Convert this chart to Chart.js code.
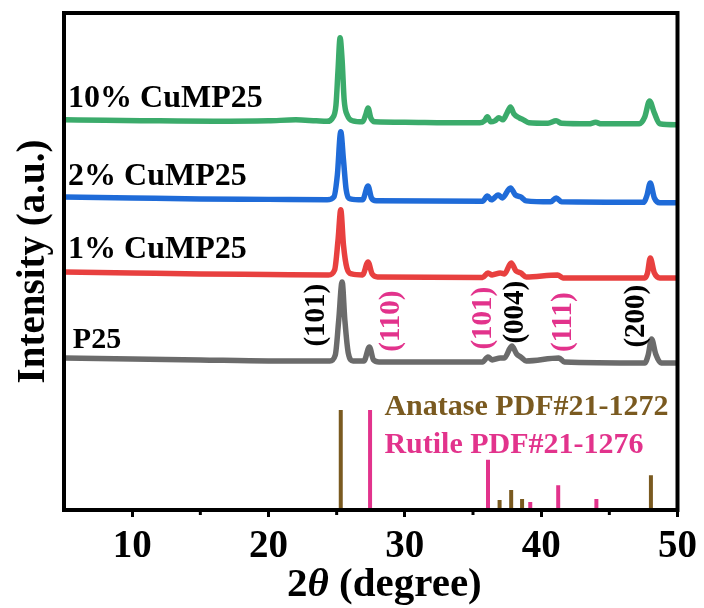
<!DOCTYPE html>
<html>
<head>
<meta charset="utf-8">
<script src="https://cdn.jsdelivr.net/npm/chart.js@4.4.1/dist/chart.umd.min.js"></script>
<style>
  html, body { margin: 0; padding: 0; background: #fff; }
  #wrap { width: 704px; height: 608px; }
</style>
</head>
<body>
<div id="wrap"><canvas id="chart" width="704" height="608"></canvas></div>
<script>
// XRD patterns, 2θ in degrees, intensity in arbitrary offset units
const p25X = [5, 10, 15, 20, 24.5, 24.9, 25.15, 25.4, 25.6, 25.85, 26.2, 27.0, 27.4, 27.7, 28.1, 35.7, 36.1, 36.4, 37.0, 37.3, 37.85, 38.2, 38.5, 38.9, 41.3, 41.7, 47.6, 47.85, 48.1, 48.4, 48.8, 50];
const p25Y = [30.6, 30.4, 30.2, 30.0, 30.0, 31.2, 38.2, 45.9, 38.2, 31.6, 30.0, 30.0, 32.8, 30.2, 29.8, 29.8, 30.8, 30.2, 30.6, 30.6, 33.0, 31.4, 30.8, 30.0, 30.6, 29.8, 29.6, 31.2, 34.4, 31.4, 29.6, 29.6];

const cu1X = [5, 10, 15, 20, 24.4, 24.85, 25.1, 25.3, 25.5, 25.75, 26.1, 26.9, 27.3, 27.6, 28, 35.7, 36.1, 36.4, 37.0, 37.3, 37.8, 38.15, 38.5, 38.9, 41.2, 41.6, 47.6, 47.8, 48.0, 48.3, 48.7, 50];
const cu1Y = [47.9, 47.7, 47.5, 47.4, 47.3, 48.3, 54.3, 60.4, 53.3, 48.7, 47.5, 47.3, 49.9, 47.5, 46.9, 46.8, 47.7, 47.3, 47.7, 47.5, 49.7, 48.1, 47.7, 46.9, 47.3, 46.7, 46.7, 47.7, 50.7, 47.7, 46.7, 46.7];

const cu2X = [5, 10, 15, 20, 24.3, 24.8, 25.05, 25.3, 25.5, 25.7, 26.0, 26.9, 27.3, 27.55, 27.9, 35.7, 36.05, 36.35, 36.85, 37.15, 37.75, 38.1, 38.5, 38.9, 40.7, 41.1, 41.5, 47.5, 47.75, 48.0, 48.3, 48.7, 50];
const cu2Y = [63.0, 62.8, 62.6, 62.5, 62.4, 63.0, 67.4, 76.1, 70.4, 64.4, 62.6, 62.4, 65.2, 62.8, 62.2, 62.1, 63.2, 62.4, 63.4, 62.8, 64.8, 63.4, 63.0, 62.2, 62.0, 62.8, 62.0, 61.9, 63.2, 65.8, 62.8, 61.8, 61.8];

const cu10X = [5, 8, 12, 16, 20, 22, 23.5, 24.3, 24.7, 24.95, 25.1, 25.25, 25.4, 25.55, 25.8, 26.2, 26.9, 27.15, 27.3, 27.5, 27.8, 30, 33, 35.5, 35.85, 36.05, 36.3, 36.6, 36.9, 37.2, 37.5, 37.75, 38.0, 38.4, 38.7, 39.1, 40.5, 41.1, 41.5, 43.5, 44.0, 44.4, 47.2, 47.6, 47.95, 48.3, 48.7, 50];
const cu10Y = [78.5, 78.4, 78.3, 78.2, 78.3, 78.5, 78.3, 78.2, 78.9, 81.5, 88.5, 95.0, 90.5, 82.5, 79.3, 78.3, 78.1, 79.7, 80.9, 78.9, 78.1, 78.0, 77.9, 77.9, 78.3, 79.1, 78.1, 78.3, 78.9, 78.5, 79.9, 81.1, 79.7, 78.9, 78.5, 77.9, 77.8, 78.3, 77.8, 77.7, 78.0, 77.7, 77.7, 79.1, 82.3, 79.9, 77.7, 77.5];

// standard reference patterns (stick positions and relative heights)
const anatasePos = [25.3, 36.95, 37.8, 38.6, 48.05];
const anataseInt = [20.1, 2.0, 4.0, 2.2, 7.0];
const rutilePos = [27.45, 36.1, 39.2, 41.25, 44.05];
const rutileInt = [20.1, 10.1, 1.6, 5.0, 2.2];

const xTicks = [10, 20, 30, 40, 50];
const xMinorTicks = [15, 25, 35, 45];

const seriesNames = ['P25', '1% CuMP25', '2% CuMP25', '10% CuMP25'];
const seriesColors = ['#6b6b6b', '#e8403f', '#1f6bd8', '#3bab6b'];
const anataseColor = '#7a5a20';
const rutileColor = '#e2338c';

// text annotations in data coordinates
const nameAnchors = [[5.65, 32.6], [5.3, 50.7], [5.3, 65.4], [5.3, 81.1]];
const planeLabels = [
  { text: '(101)', x: 23.5, y: 39.2, color: '#000' },
  { text: '(110)', x: 29.0, y: 38.0, color: rutileColor },
  { text: '(101)', x: 35.8, y: 38.6, color: rutileColor },
  { text: '(004)', x: 38.15, y: 39.8, color: '#000' },
  { text: '(111)', x: 41.66, y: 37.8, color: rutileColor },
  { text: '(200)', x: 47.0, y: 39.0, color: '#000' }
];
const refLegend = [
  { text: 'Anatase PDF#21-1272', x: 28.5, y: 19.1, color: anataseColor },
  { text: 'Rutile PDF#21-1276', x: 28.5, y: 11.5, color: rutileColor }
];

const SERIF = '"Liberation Serif"';

function toPoints(xs, ys) {
  return xs.map((x, i) => ({ x: x, y: ys[i] }));
}

function toSticks(pos, ints) {
  return pos.flatMap((p, i) => [{ x: p, y: 0 }, { x: p, y: ints[i] }, { x: p, y: null }]);
}

const curves = [[p25X, p25Y], [cu1X, cu1Y], [cu2X, cu2Y], [cu10X, cu10Y]];

const datasets = curves.map((c, i) => ({
  label: seriesNames[i],
  data: toPoints(c[0], c[1]),
  borderColor: seriesColors[i],
  borderWidth: 5.5,
  pointRadius: 0,
  cubicInterpolationMode: 'monotone',
  borderJoinStyle: 'round',
  borderCapStyle: 'round'
}));

datasets.push({
  label: 'Anatase',
  data: toSticks(anatasePos, anataseInt),
  borderColor: anataseColor,
  borderWidth: 4,
  pointRadius: 0,
  spanGaps: false,
  borderCapStyle: 'butt'
});
datasets.push({
  label: 'Rutile',
  data: toSticks(rutilePos, rutileInt),
  borderColor: rutileColor,
  borderWidth: 4,
  pointRadius: 0,
  spanGaps: false,
  borderCapStyle: 'butt'
});

// frame, minor ticks, axis titles and all the in-plot text
const decorPlugin = {
  id: 'decor',
  afterDraw(chart) {
    const c = chart.ctx;
    const xs = chart.scales.x;
    const ys = chart.scales.y;
    const a = chart.chartArea;
    c.save();

    c.strokeStyle = '#000';
    c.lineWidth = 3;
    xMinorTicks.forEach(v => {
      const px = xs.getPixelForValue(v);
      c.beginPath();
      c.moveTo(px, a.bottom);
      c.lineTo(px, a.bottom + 5);
      c.stroke();
    });

    c.lineWidth = 4;
    c.strokeRect(a.left, a.top, a.right - a.left, a.bottom - a.top);

    c.fillStyle = '#000';
    c.textBaseline = 'alphabetic';
    c.textAlign = 'left';
    nameAnchors.forEach((p, i) => {
      c.font = (i === 0 ? 'bold 30px ' : 'bold 32px ') + SERIF;
      c.fillText(seriesNames[i], xs.getPixelForValue(p[0]), ys.getPixelForValue(p[1]));
    });

    c.font = 'bold 30px ' + SERIF;
    refLegend.forEach(l => {
      c.fillStyle = l.color;
      c.fillText(l.text, xs.getPixelForValue(l.x), ys.getPixelForValue(l.y));
    });

    c.font = 'bold 29px ' + SERIF;
    c.textAlign = 'center';
    c.textBaseline = 'middle';
    planeLabels.forEach(l => {
      c.save();
      c.translate(xs.getPixelForValue(l.x), ys.getPixelForValue(l.y));
      c.rotate(-Math.PI / 2);
      c.fillStyle = l.color;
      c.fillText(l.text, 0, 0);
      c.restore();
    });

    // x axis title with italic theta, centred under 28.5°
    const parts = [
      { t: '2', f: 'bold 41px ' + SERIF },
      { t: 'θ', f: 'italic bold 41px ' + SERIF },
      { t: ' (degree)', f: 'bold 41px ' + SERIF }
    ];
    let total = 0;
    parts.forEach(p => { c.font = p.f; p.w = c.measureText(p.t).width; total += p.w; });
    let tx = xs.getPixelForValue(28.5) - total / 2;
    c.textAlign = 'left';
    c.textBaseline = 'alphabetic';
    c.fillStyle = '#000';
    parts.forEach(p => {
      c.font = p.f;
      c.fillText(p.t, tx, 596);
      tx += p.w;
    });

    // y axis title, bottom-to-top
    c.save();
    c.translate(34, (a.top + a.bottom) / 2);
    c.rotate(-Math.PI / 2);
    c.font = 'bold 39px ' + SERIF;
    c.textAlign = 'center';
    c.textBaseline = 'middle';
    c.fillText('Intensity (a.u.)', 0, 0);
    c.restore();

    c.restore();
  }
};

function drawChart() {
  new Chart(document.getElementById('chart'), {
    type: 'line',
    data: { datasets: datasets },
    options: {
      responsive: false,
      animation: false,
      layout: { padding: { left: 0, right: 25, top: 13, bottom: 0 } },
      plugins: { legend: { display: false }, tooltip: { enabled: false } },
      scales: {
        x: {
          type: 'linear',
          min: 5,
          max: 50,
          afterBuildTicks: s => { s.ticks = xTicks.map(v => ({ value: v })); },
          afterFit: s => { s.height = 98; },
          border: { display: false },
          grid: { drawOnChartArea: false, drawTicks: true, tickLength: 7, lineWidth: 3, color: '#000' },
          ticks: {
            color: '#000',
            padding: 7,
            maxRotation: 0,
            font: { family: SERIF, size: 39, weight: 'bold' }
          }
        },
        y: {
          type: 'linear',
          min: 0,
          max: 100,
          afterFit: s => { s.width = 64; },
          border: { display: false },
          grid: { display: false },
          ticks: { display: false }
        }
      }
    },
    plugins: [decorPlugin]
  });
}

Promise.all([
  document.fonts.load('bold 32px "Liberation Serif"'),
  document.fonts.load('italic bold 32px "Liberation Serif"')
]).then(drawChart, drawChart);
</script>
</body>
</html>
